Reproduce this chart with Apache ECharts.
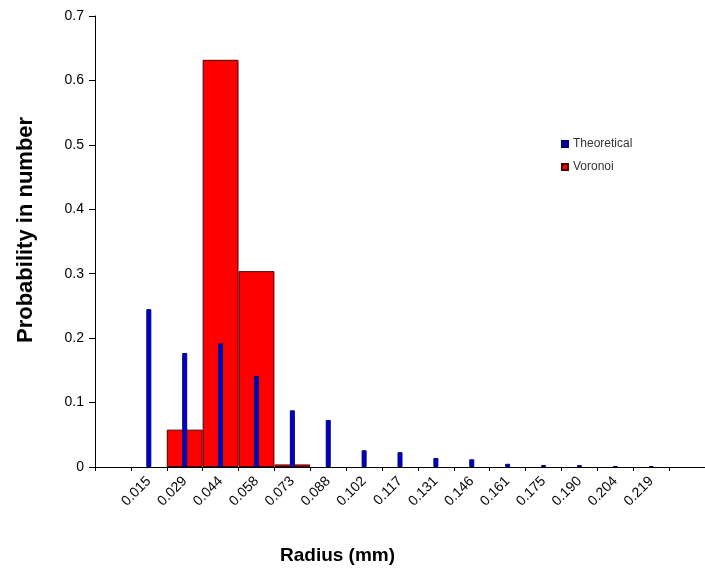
<!DOCTYPE html>
<html>
<head>
<meta charset="utf-8">
<script src="https://cdn.jsdelivr.net/npm/echarts@6/dist/echarts.min.js"></script>
<style>html,body{margin:0;padding:0;background:#fff}#c{width:705px;height:572px}</style>
</head>
<body>
<div id="c"></div>
<script>
const categories = ['', '0.015', '0.029', '0.044', '0.058', '0.073', '0.088', '0.102', '0.117', '0.131', '0.146', '0.161', '0.175', '0.190', '0.204', '0.219', ''];
const theoretical = [0, 0.245, 0.177, 0.192, 0.141, 0.088, 0.073, 0.026, 0.023, 0.014, 0.012, 0.005, 0.003, 0.003, 0.0015, 0.0015, 0];
const voronoi = [0, 0, 0.058, 0.632, 0.304, 0.004, 0, 0, 0, 0, 0, 0, 0, 0, 0, 0, 0];
const yTicks = [0, 0.1, 0.2, 0.3, 0.4, 0.5, 0.6, 0.7];

const hideZero = arr => arr.map(v => (v === 0 ? null : v));
const chart = echarts.init(document.getElementById('c'), null, {renderer: 'canvas'});
const font = 'Liberation Sans, Arial, sans-serif';
chart.setOption({
  animation: false,
  grid: {left: 95, top: 16, right: -6, bottom: 105, containLabel: false},
  legend: {
    orient: 'vertical', left: 556, top: 133, itemWidth: 6, itemHeight: 6, itemGap: 11,
    icon: 'rect',
    textStyle: {fontFamily: font, fontSize: 12, color: '#333'},
    data: ['Theoretical', 'Voronoi']
  },
  xAxis: [{
    type: 'category', data: categories, boundaryGap: true,
    axisLine: {lineStyle: {color: '#000', width: 1}},
    axisTick: {show: true, length: 4, lineStyle: {color: '#000'}, interval: 0},
    axisLabel: {rotate: 45, interval: 0, margin: 12, fontFamily: font, fontSize: 14, color: '#000'}
  }, {
    type: 'category', data: categories, show: false, position: 'bottom'
  }],
  yAxis: {
    type: 'value', min: 0, max: 0.7, interval: 0.1,
    axisLine: {show: true, lineStyle: {color: '#000', width: 1}},
    axisTick: {show: true, length: 6, lineStyle: {color: '#000'}},
    splitLine: {show: false},
    axisLabel: {margin: 11, fontFamily: font, fontSize: 14, color: '#000',
      formatter: v => { const t = yTicks.find(x => Math.abs(x - v) < 1e-9); return t === undefined ? '' : String(t); }}
  },
  graphic: [
    {type: 'text', left: 280, top: 546, style: {text: 'Radius (mm)', font: 'bold 19px ' + font, fill: '#000'}},
    {type: 'text', rotation: Math.PI / 2, x: 15, y: 343, style: {text: 'Probability in number', font: 'bold 22px ' + font, fill: '#000'}}
  ],
  series: [{
    name: 'Voronoi', type: 'bar', xAxisIndex: 0, data: hideZero(voronoi), barWidth: '100%', z: 2,
    itemStyle: {color: '#ff0000', borderColor: '#4a0000', borderWidth: 1}
  }, {
    name: 'Theoretical', type: 'bar', xAxisIndex: 1, data: hideZero(theoretical), barWidth: 5, z: 3,
    itemStyle: {color: '#0000c8', borderColor: '#000070', borderWidth: 1}
  }]
});
</script>
</body>
</html>
